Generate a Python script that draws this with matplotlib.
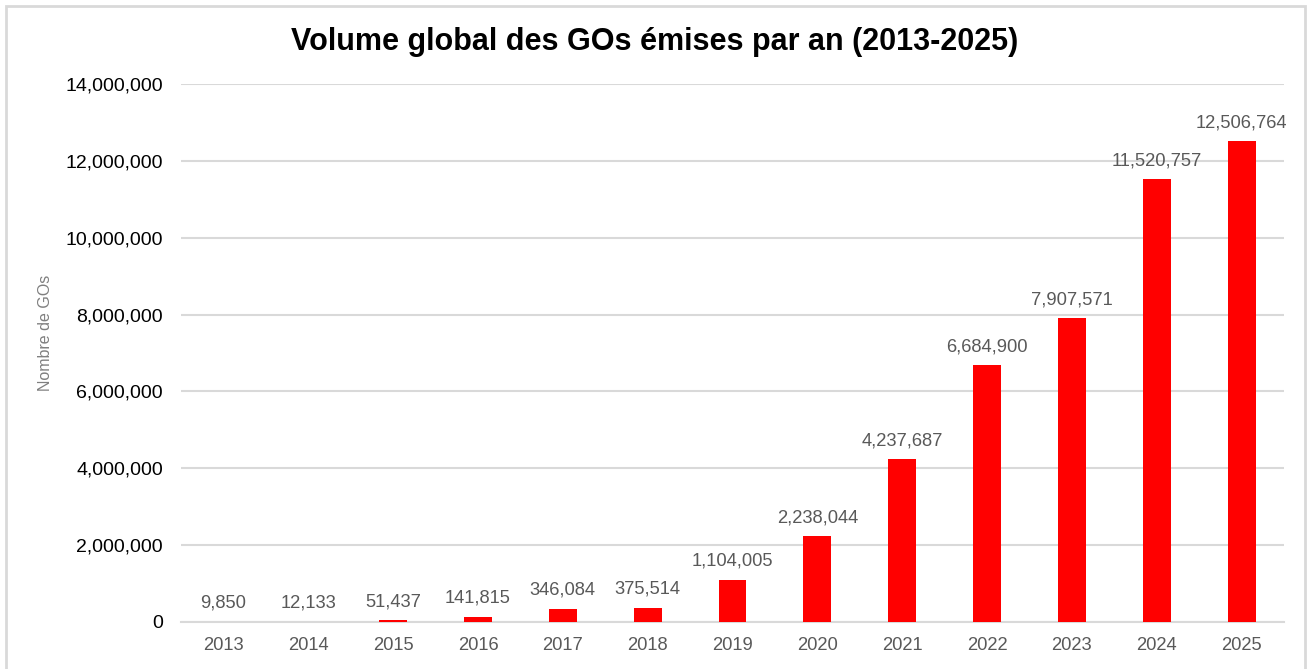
import matplotlib
matplotlib.use("Agg")
from matplotlib import pyplot as plt
from matplotlib import ticker
from matplotlib.patches import Rectangle

FIGSIZE = (1310, 669)
DPI = 100

BAR_COLOR = "#ff0000"
GRID_COLOR = "#d9d9d9"
LABEL_GRAY = "#595959"

years = ["2013", "2014", "2015", "2016", "2017", "2018", "2019",
         "2020", "2021", "2022", "2023", "2024", "2025"]
volumes = [9850, 12133, 51437, 141815, 346084, 375514, 1104005,
           2238044, 4237687, 6684900, 7907571, 11520757, 12506764]

plt.rcParams["font.family"] = ["Liberation Sans", "DejaVu Sans"]

fig = plt.figure(figsize=(FIGSIZE[0]/DPI, FIGSIZE[1]/DPI), dpi=DPI)
ax = fig.add_axes([181/1310, 1 - 622/669, (1284 - 181)/1310, (622 - 84)/669])

xs = range(len(years))
ax.bar(xs, volumes, width=0.33, color=BAR_COLOR, zorder=3)

for x, v in zip(xs, volumes):
    ax.annotate("{:,}".format(v), (x, v), xytext=(0, 7), textcoords="offset points",
                ha="center", va="bottom", fontsize=13.2, color=LABEL_GRAY, zorder=4)

ax.set_xlim(-0.5, len(years) - 0.5)
ax.set_ylim(0, 14000000)
ax.yaxis.set_major_locator(ticker.MultipleLocator(2000000))
ax.yaxis.set_major_formatter(ticker.FuncFormatter(lambda v, pos: "{:,}".format(int(v))))
ax.set_xticks(list(xs))
ax.set_xticklabels(years)

ax.grid(axis="y", color=GRID_COLOR, linewidth=1.5, zorder=0)
for side in ["top", "right", "left"]:
    ax.spines[side].set_visible(False)
ax.spines["bottom"].set_color(GRID_COLOR)
ax.spines["bottom"].set_linewidth(1.5)
ax.tick_params(axis="both", length=0)
ax.tick_params(axis="y", labelsize=14, colors="#000000", pad=13)
ax.tick_params(axis="x", labelsize=13.2, labelcolor=LABEL_GRAY, pad=11)

fig.text(45/1310, 1 - 333/669, "Nombre de GOs", rotation=90, ha="center", va="center",
         fontsize=11.5, color="#7f7f7f")
fig.text(655/1310, 1 - 42/669, "Volume global des GOs émises par an (2013-2025)",
         ha="center", va="center", fontsize=22, fontweight="bold", color="black")

fig.patches.append(Rectangle((6/1310, -0.05), 1299/1310, 1 - 6/669 + 0.05,
                             transform=fig.transFigure, fill=False,
                             edgecolor=GRID_COLOR, linewidth=2))

plt.savefig("out.png", dpi=DPI)
